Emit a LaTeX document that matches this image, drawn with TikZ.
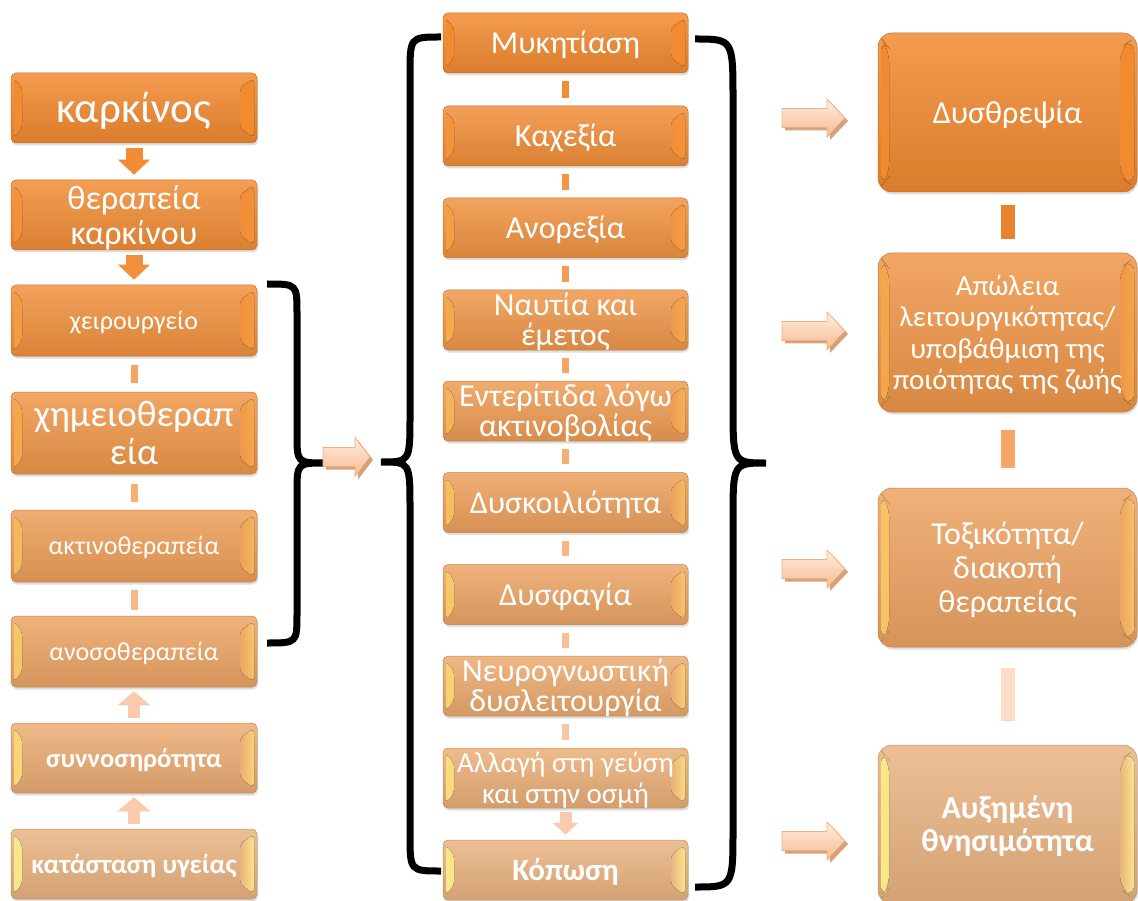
\documentclass[tikz,border=0pt]{standalone}
\usepackage{fontspec}
\setmainfont{Carlito}
\usetikzlibrary{arrows.meta,shadows}
\definecolor{o1}{RGB}{242,138,48}
\definecolor{o2}{RGB}{234,180,130}
\definecolor{pale}{RGB}{249,203,172}
\definecolor{shadowc}{RGB}{214,162,122}
\definecolor{arrtop}{RGB}{254,238,226}
\definecolor{arrbot}{RGB}{246,186,142}
\definecolor{arredge}{RGB}{243,174,128}
\newcommand\fs[2]{\fontsize{#1}{#2}\selectfont}
\newcommand\ctext[1]{\makebox[0pt][c]{\vbox to 0pt{\vss\hsize=330pt\parindent=0pt\centering\rule{0pt}{0.952em}#1\rule[-0.269em]{0pt}{0pt}\par\vss}}}
\newcommand\blockarr[6]{% x, y centre, length, head height, shaft, head length
  \fill[shadowc] ({#1+3},{#2+3-#5/2}) -- ({#1+3+#3-#6},{#2+3-#5/2}) -- ({#1+3+#3-#6},{#2+3-#4/2}) -- ({#1+3+#3},{#2+3}) -- ({#1+3+#3-#6},{#2+3+#4/2}) -- ({#1+3+#3-#6},{#2+3+#5/2}) -- ({#1+3},{#2+3+#5/2}) -- cycle;
  \filldraw[draw=arredge, line width=0.6pt, top color=arrtop, bottom color=arrbot] ({#1},{#2-#5/2}) -- ({#1+#3-#6},{#2-#5/2}) -- ({#1+#3-#6},{#2-#4/2}) -- ({#1+#3},{#2}) -- ({#1+#3-#6},{#2+#4/2}) -- ({#1+#3-#6},{#2+#5/2}) -- ({#1},{#2+#5/2}) -- cycle;
}
\tikzset{
  box/.style={rectangle, rounded corners=5pt, inner sep=0pt, text=white,
    top color=#1!85!white, bottom color=#1!90!black, draw=#1!80!black, line width=0.5pt,
    drop shadow={opacity=0.25, shadow xshift=1pt, shadow yshift=-2.5pt},
    path picture={
      \fill[left color=yellow!45!white!70!#1, right color=#1]
        ([shift={(3pt,-5pt)}]path picture bounding box.north west) --
        ([shift={(11pt,-15pt)}]path picture bounding box.north west) --
        ([shift={(11pt,15pt)}]path picture bounding box.south west) --
        ([shift={(3pt,5pt)}]path picture bounding box.south west) -- cycle;
      \fill[left color=#1, right color=yellow!45!white!65!#1]
        ([shift={(-3pt,-5pt)}]path picture bounding box.north east) --
        ([shift={(-17pt,-15pt)}]path picture bounding box.north east) --
        ([shift={(-17pt,15pt)}]path picture bounding box.south east) --
        ([shift={(-3pt,5pt)}]path picture bounding box.south east) -- cycle;
    }},
  bigbox/.style={box=#1, rounded corners=14pt},
  lbox/.style={minimum width=246pt, minimum height=70pt},
  mbox/.style={minimum width=245pt, minimum height=60pt, font=\fs{32}{30}},
  rbox/.style={minimum width=259pt, minimum height=159pt},
  fatarr/.style={draw=#1, line width=17pt, -{Triangle[width=31pt,length=15pt]}, shorten <=5pt, shorten >=5pt},
  uparr/.style={draw=#1, line width=12pt, -{Triangle[width=32pt,length=14pt]}, shorten <=5pt, shorten >=4pt},
  smallarr/.style={draw=#1, line width=12pt, -{Triangle[width=25pt,length=12pt]}, shorten <=4pt, shorten >=5pt},
  bar/.style={draw=#1, line width=7pt},
  rbar/.style={draw=#1, line width=14pt},
  brace/.style={draw=black, line width=7pt},
}
\begin{document}
\begin{tikzpicture}[x=1pt,y=-1pt]
\useasboundingbox (0,0) rectangle (1138,901);
% left column
\node[box=o2!0!o1, lbox, font=\fs{43}{48}] (k1) at (134,108) {\ctext{καρκίνος}};
\node[box=o2!8!o1, lbox, font=\fs{34}{35}] (k2) at (134,215) {\ctext{θεραπεία\\καρκίνου}};
\node[box=o2!18!o1, lbox, minimum height=71pt, font=\fs{26}{30}] (k3) at (134,320.5) {\ctext{χειρουργείο}};
\node[box=o2!32!o1, lbox, minimum height=82pt, font=\fs{37}{38}] (k4) at (134,433) {\ctext{χημειοθεραπ\\εία}};
\node[box=o2!50!o1, lbox, minimum height=72pt, font=\fs{26}{30}] (k5) at (134,546) {\ctext{ακτινοθεραπεία}};
\node[box=o2!65!o1, lbox, minimum height=71pt, font=\fs{26}{30}] (k6) at (134,651.5) {\ctext{ανοσοθεραπεία}};
\node[box=o2!82!o1, lbox, font=\fs{26.5}{30}\bfseries] (k7) at (134,758) {\ctext{συννοσηρότητα}};
\node[box=o2!100!o1, lbox, font=\fs{27}{30}\bfseries] (k8) at (134,864) {\ctext{κατάσταση υγείας}};
\draw[fatarr=o2!4!o1] (k1.south) -- (k2.north);
\draw[fatarr=o2!12!o1] (k2.south) -- (k3.north);
\draw[bar=pale!40!o1, shorten <=9pt, shorten >=9pt] (k3.south) -- (k4.north);
\draw[bar=pale!55!o1, shorten <=10pt, shorten >=8pt] (k4.south) -- (k5.north);
\draw[bar=pale!70!o1, shorten <=8pt, shorten >=6pt] (k5.south) -- (k6.north);
\draw[uparr=pale] (k7.north) -- (k6.south);
\draw[uparr=pale] (k8.north) -- (k7.south);
% middle column
\node[box=o2!0!o1, mbox] (m1) at (565.5,43) {\ctext{Μυκητίαση}};
\node[box=o2!11!o1, mbox] (m2) at (565.5,136) {\ctext{Καχεξία}};
\node[box=o2!22!o1, mbox] (m3) at (565.5,228) {\ctext{Ανορεξία}};
\node[box=o2!33!o1, mbox] (m4) at (565.5,320) {\ctext{Ναυτία και\\έμετος}};
\node[box=o2!44!o1, mbox] (m5) at (565.5,411) {\ctext{Εντερίτιδα λόγω\\ακτινοβολίας}};
\node[box=o2!55!o1, mbox] (m6) at (565.5,502.5) {\ctext{Δυσκοιλιότητα}};
\node[box=o2!66!o1, mbox] (m7) at (565.5,594.5) {\ctext{Δυσφαγία}};
\node[box=o2!77!o1, mbox] (m8) at (565.5,686) {\ctext{Νευρογνωστική\\δυσλειτουργία}};
\node[box=o2!88!o1, mbox, font=\fs{29}{31}] (m9) at (565.5,778) {\ctext{Αλλαγή στη γεύση\\και στην οσμή}};
\node[box=o2!100!o1, mbox, font=\fs{31}{30}\bfseries] (m10) at (565.5,870) {\ctext{Κόπωση}};
\foreach \a/\b/\p in {1/2/5, 2/3/18, 3/4/30, 4/5/43, 5/6/55, 6/7/68, 7/8/80, 8/9/92}
  \draw[bar=pale!\p!o1, shorten <=8pt, shorten >=8pt] (m\a.south) -- (m\b.north);
\draw[smallarr=pale] (m9.south) -- (m10.north);
% right column
\node[bigbox=o2!0!o1, rbox, font=\fs{32}{36}] (r1) at (1007.5,112.5) {\ctext{Δυσθρεψία}};
\node[bigbox=o2!30!o1, rbox, font=\fs{29}{31.5}] (r2) at (1007.5,332.5) {\ctext{Απώλεια\\λειτουργικότητας/\\υποβάθμιση της\\ποιότητας της ζωής}};
\node[bigbox=o2!62!o1, rbox, font=\fs{32}{34}] (r3) at (1007.5,567.5) {\ctext{Τοξικότητα/\\διακοπή\\θεραπείας}};
\node[bigbox=o2!100!o1, rbox, font=\fs{32}{33}\bfseries] (r4) at (1007.5,824.5) {\ctext{Αυξημένη\\θνησιμότητα}};
\draw[rbar=o1!95!black, shorten <=13pt, shorten >=14pt] (r1.south) -- (r2.north);
\draw[rbar=pale!45!o1, shorten <=18pt, shorten >=20pt] (r2.south) -- (r3.north);
\draw[rbar=pale!65!white, shorten <=21pt, shorten >=24pt] (r3.south) -- (r4.north);
% braces
\draw[brace] (267,284) .. controls (297,284) .. (297,314) -- (297,434) .. controls (297,463) .. (326,463) .. controls (297,463) .. (297,492) -- (297,613) .. controls (297,643) .. (267,643);
\draw[brace] (441,37) .. controls (410,37) .. (410,75) -- (410,415) .. controls (410,462) .. (381,462) .. controls (410,462) .. (410,509) -- (410,834) .. controls (410,871) .. (441,871);
\draw[brace] (695,39) .. controls (733,39) .. (733,100) -- (733,405) .. controls (733,463) .. (766,463) .. controls (733,463) .. (733,521) -- (733,829) .. controls (733,887) .. (695,887);
% block arrows
\blockarr{323}{457}{47}{39}{19}{15}
\blockarr{782}{118}{63}{38}{19}{18}
\blockarr{782}{331}{63}{38}{19}{18}
\blockarr{782}{569}{63}{38}{19}{18}
\blockarr{782}{841}{63}{38}{19}{18}
\end{tikzpicture}
\end{document}
